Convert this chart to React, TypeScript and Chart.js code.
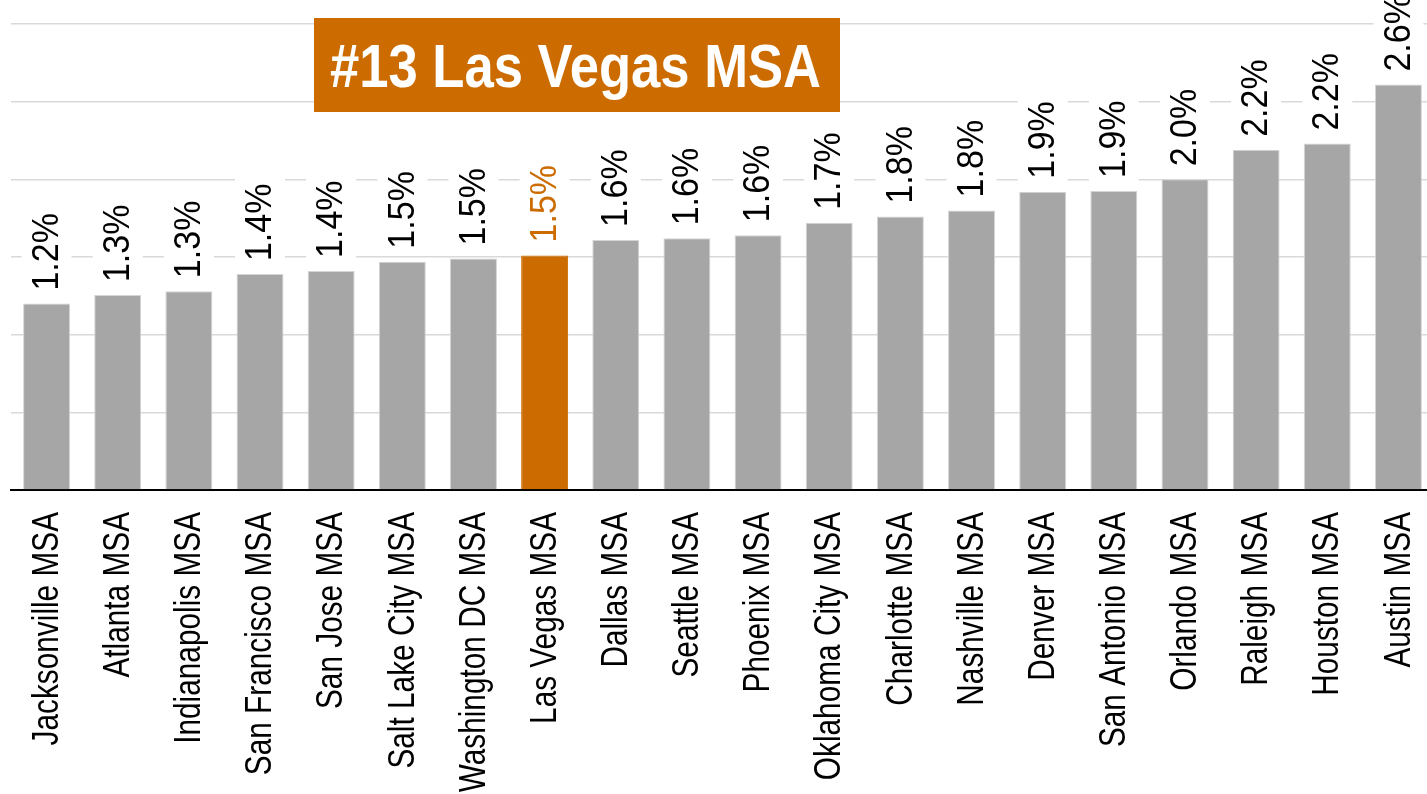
import React, { useEffect, useRef } from "react";
import { Chart, registerables } from "chart.js";

Chart.register(...registerables);

const categories = [
  "Jacksonville MSA",
  "Atlanta MSA",
  "Indianapolis MSA",
  "San Francisco MSA",
  "San Jose MSA",
  "Salt Lake City MSA",
  "Washington DC MSA",
  "Las Vegas MSA",
  "Dallas MSA",
  "Seattle MSA",
  "Phoenix MSA",
  "Oklahoma City MSA",
  "Charlotte MSA",
  "Nashville MSA",
  "Denver MSA",
  "San Antonio MSA",
  "Orlando MSA",
  "Raleigh MSA",
  "Houston MSA",
  "Austin MSA",
];

const values = [
  1.2, 1.255, 1.28, 1.39, 1.41, 1.47, 1.49, 1.51, 1.61, 1.62, 1.64, 1.72, 1.76,
  1.8, 1.92, 1.925, 2.0, 2.19, 2.23, 2.61,
];

const highlight = "Las Vegas MSA";
const titleText = "#13 Las Vegas MSA";

const ORANGE = "#CC6C00";
const GRAY = "#A6A6A6";
const FONT = "'Liberation Sans', Arial, sans-serif";

const dataLabelPlugin = {
  id: "dataLabels",
  afterDatasetsDraw(chart: any) {
    const ctx = chart.ctx;
    const meta = chart.getDatasetMeta(0);
    ctx.save();
    ctx.font = `37px ${FONT}`;
    const sx = 0.92;
    meta.data.forEach((bar: any, i: number) => {
      const text = values[i].toFixed(1) + "%";
      const color = categories[i] === highlight ? ORANGE : "#000000";
      ctx.save();
      ctx.translate(bar.x, bar.y - 13);
      ctx.rotate(-Math.PI / 2);
      const w = ctx.measureText(text).width * sx;
      ctx.fillStyle = "#ffffff";
      ctx.fillRect(-6, -25, w + 14, 50);
      ctx.scale(sx, 1);
      ctx.fillStyle = color;
      ctx.textAlign = "left";
      ctx.textBaseline = "middle";
      ctx.fillText(text, 0, 1);
      ctx.restore();
    });
    ctx.restore();
  },
};

const categoryLabelPlugin = {
  id: "categoryLabels",
  afterDraw(chart: any) {
    const ctx = chart.ctx;
    const xs = chart.scales.x;
    const top = chart.chartArea.bottom + 22;
    ctx.save();
    ctx.font = `37px ${FONT}`;
    ctx.fillStyle = "#000000";
    categories.forEach((c, i) => {
      const x = xs.getPixelForValue(i);
      ctx.save();
      ctx.translate(x, top);
      ctx.rotate(-Math.PI / 2);
      ctx.scale(0.805, 1);
      ctx.textAlign = "right";
      ctx.textBaseline = "middle";
      ctx.fillText(c, 0, 1);
      ctx.restore();
    });
    ctx.restore();
  },
};

const titleBoxPlugin = {
  id: "titleBox",
  afterDraw(chart: any) {
    const ctx = chart.ctx;
    ctx.save();
    ctx.fillStyle = ORANGE;
    ctx.fillRect(314, 18, 526, 94);
    ctx.translate(330, 87);
    ctx.scale(0.862, 1);
    ctx.fillStyle = "#ffffff";
    ctx.font = `bold 61px ${FONT}`;
    ctx.textAlign = "left";
    ctx.textBaseline = "alphabetic";
    ctx.fillText(titleText, 0, 0);
    ctx.restore();
  },
};

export default function App() {
  const canvasRef = useRef<HTMLCanvasElement | null>(null);

  useEffect(() => {
    const canvas = canvasRef.current;
    if (!canvas) return;
    const chart = new Chart(canvas, {
      type: "bar",
      data: {
        labels: categories,
        datasets: [
          {
            data: values,
            backgroundColor: categories.map((c) => (c === highlight ? ORANGE : GRAY)),
            borderColor: categories.map((c) => (c === highlight ? ORANGE : "#D4D4D4")),
            borderWidth: 1,
            categoryPercentage: 1,
            barPercentage: 0.66,
          },
        ],
      },
      options: {
        responsive: false,
        animation: false,
        devicePixelRatio: 1,
        layout: { padding: { left: 11, right: 0, top: 24, bottom: 0 } },
        plugins: {
          legend: { display: false },
          tooltip: { enabled: false },
          title: { display: false },
        },
        scales: {
          x: {
            grid: { display: false, drawTicks: false },
            border: { display: true, color: "#000000", width: 2 },
            ticks: { display: false },
            afterFit(scale: any) {
              scale.height = 304;
            },
          },
          y: {
            min: 0,
            max: 3,
            ticks: { display: false, stepSize: 0.5 },
            border: { display: false },
            grid: { color: "#D9D9D9", lineWidth: 1.5, drawTicks: false },
            afterFit(scale: any) {
              scale.width = 0;
            },
          },
        },
      },
      plugins: [dataLabelPlugin, categoryLabelPlugin, titleBoxPlugin],
    });
    return () => chart.destroy();
  }, []);

  return (
    <div
      style={{
        position: "fixed",
        left: 0,
        top: 0,
        width: 1427,
        height: 794,
        overflow: "hidden",
        background: "#ffffff",
      }}
    >
      <canvas
        ref={canvasRef}
        width={1434}
        height={794}
        style={{ display: "block", width: 1434, height: 794 }}
      />
    </div>
  );
}
